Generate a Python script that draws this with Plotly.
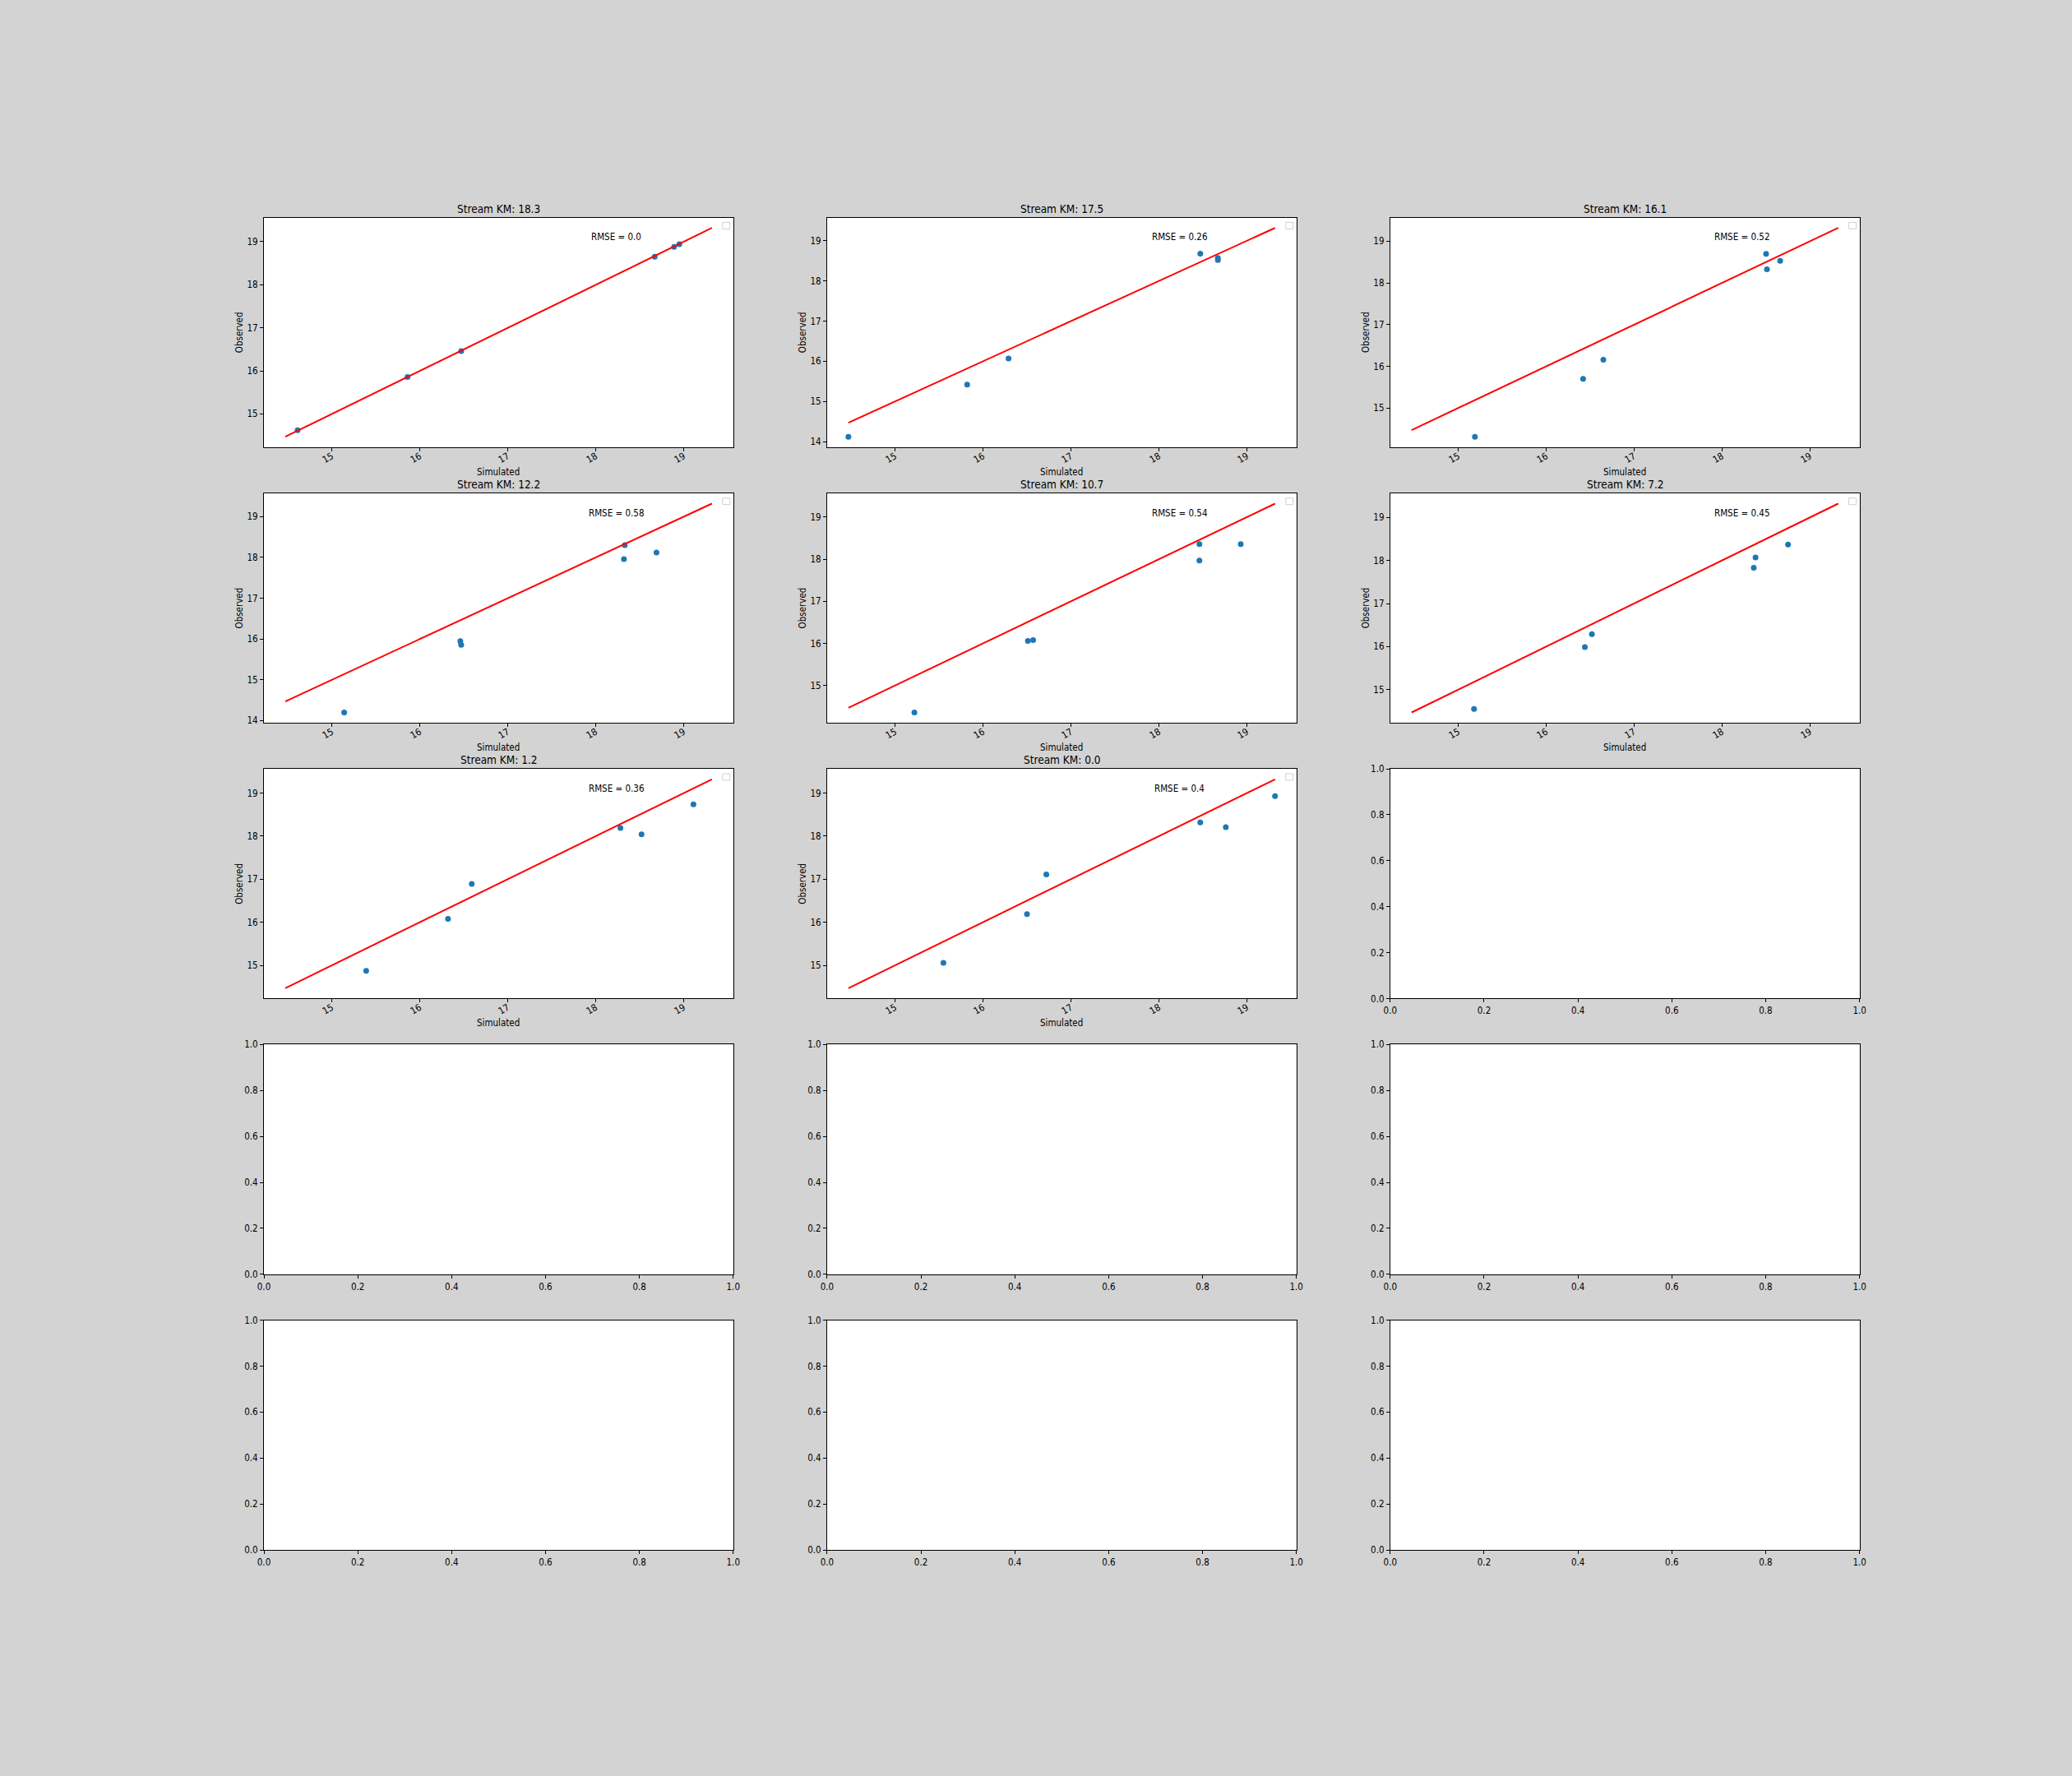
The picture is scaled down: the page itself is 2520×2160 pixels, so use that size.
import plotly.graph_objects as go

# ---------------- data ----------------
km_labels = ["18.3", "17.5", "16.1", "12.2", "10.7", "7.2", "1.2", "0.0"]
rmse_labels = ["0.0", "0.26", "0.52", "0.58", "0.54", "0.45", "0.36", "0.4"]

sim_183 = [14.61, 15.86, 16.47, 18.67, 18.89, 18.95]
obs_183 = [14.62, 15.86, 16.46, 18.65, 18.88, 18.94]
sim_175 = [14.47, 15.82, 16.29, 18.47, 18.67, 18.67]
obs_175 = [14.12, 15.42, 16.07, 18.68, 18.57, 18.52]
sim_161 = [15.19, 16.42, 16.65, 18.50, 18.51, 18.66]
obs_161 = [14.31, 15.70, 16.16, 18.70, 18.33, 18.53]
sim_122 = [15.14, 16.46, 16.47, 18.33, 18.32, 18.69]
obs_122 = [14.20, 15.95, 15.86, 18.30, 17.96, 18.12]
sim_107 = [15.22, 16.51, 16.57, 18.46, 18.46, 18.93]
obs_107 = [14.36, 16.06, 16.08, 18.36, 17.97, 18.36]
sim_72 = [15.18, 16.44, 16.52, 18.36, 18.38, 18.75]
obs_72 = [14.55, 15.99, 16.29, 17.83, 18.07, 18.37]
sim_12 = [15.39, 16.32, 16.59, 18.28, 18.52, 19.11]
obs_12 = [14.87, 16.08, 16.89, 18.19, 18.04, 18.74]
sim_00 = [15.55, 16.50, 16.72, 18.47, 18.76, 19.32]
obs_00 = [15.06, 16.19, 17.11, 18.32, 18.21, 18.93]

sims = [sim_183, sim_175, sim_161, sim_122, sim_107, sim_72, sim_12, sim_00]
obss = [obs_183, obs_175, obs_161, obs_122, obs_107, obs_72, obs_12, obs_00]

all_sim = [v for s in sims for v in s]
line_vals = [min(all_sim), max(all_sim)]

# ---------------- layout geometry ----------------
W, H = 2520, 2160
NROWS, NCOLS = 5, 3
left_px, right_px = 315.0, 2268.0
top_px, bottom_px = 259.2, 1890.3
aw = (right_px - left_px) / (NCOLS + 0.2 * (NCOLS - 1))
ah = (bottom_px - top_px) / (NROWS + 0.2 * (NROWS - 1))

FONT = "DejaVu Sans Condensed, DejaVu Sans"
TICK_SIZE = 11.5
TITLE_SIZE = 13.5

fig = go.Figure()
annotations = []
shapes = []
layout_axes = {}

for i in range(NROWS * NCOLS):
    r, c = divmod(i, NCOLS)
    x0 = left_px + c * aw * 1.2
    x1 = x0 + aw
    y0 = top_px + r * ah * 1.2
    y1 = y0 + ah
    n = i + 1
    xa = "x" if n == 1 else f"x{n}"
    ya = "y" if n == 1 else f"y{n}"
    xkey = "xaxis" if n == 1 else f"xaxis{n}"
    ykey = "yaxis" if n == 1 else f"yaxis{n}"

    common = dict(
        showline=True, linecolor="black", linewidth=1, mirror=True,
        ticks="outside", ticklen=4, tickwidth=1, tickcolor="black",
        showgrid=False, zeroline=False,
        tickfont=dict(family=FONT, size=TICK_SIZE, color="black"),
    )

    if i < len(sims):
        sx, sy = sims[i], obss[i]
        allx = sx + line_vals
        ally = sy + line_vals
        xr = [min(allx), max(allx)]
        yr = [min(ally), max(ally)]
        xpad = 0.05 * (xr[1] - xr[0])
        ypad = 0.05 * (yr[1] - yr[0])
        layout_axes[xkey] = dict(
            domain=[x0 / W, x1 / W], anchor=ya,
            range=[xr[0] - xpad, xr[1] + xpad], dtick=1, tick0=0,
            tickangle=-30, ticklabelstandoff=-5, **common)
        layout_axes[ykey] = dict(
            domain=[1 - y1 / H, 1 - y0 / H], anchor=xa,
            range=[yr[0] - ypad, yr[1] + ypad], dtick=1, tick0=0, **common)

        fig.add_trace(go.Scatter(
            x=sx, y=sy, mode="markers", xaxis=xa, yaxis=ya,
            marker=dict(color="#1f77b4", size=7, line=dict(width=0)),
            showlegend=False))
        fig.add_trace(go.Scatter(
            x=line_vals, y=line_vals, mode="lines", xaxis=xa, yaxis=ya,
            line=dict(color="red", width=2), showlegend=False))

        annotations.append(dict(
            text=f"Stream KM: {km_labels[i]}", x=0.5, y=1,
            xref=f"{xa} domain", yref=f"{ya} domain",
            xanchor="center", yanchor="middle", yshift=11, showarrow=False,
            font=dict(family=FONT, size=TITLE_SIZE, color="black")))
        annotations.append(dict(
            text="Simulated", x=0.5, y=0,
            xref=f"{xa} domain", yref=f"{ya} domain",
            xanchor="center", yanchor="middle", yshift=-30, showarrow=False,
            font=dict(family=FONT, size=TICK_SIZE, color="black")))
        annotations.append(dict(
            text="Observed", x=0, y=0.5,
            xref=f"{xa} domain", yref=f"{ya} domain",
            xanchor="center", yanchor="middle", xshift=-30, textangle=-90,
            showarrow=False,
            font=dict(family=FONT, size=TICK_SIZE, color="black")))
        annotations.append(dict(
            text=f"RMSE = {rmse_labels[i]}", x=0.751, y=0.915,
            xref=f"{xa} domain", yref=f"{ya} domain",
            xanchor="center", yanchor="middle", showarrow=False,
            font=dict(family=FONT, size=TICK_SIZE, color="black")))
        # empty legend frame
        shapes.append(dict(
            type="rect", xref=f"{xa} domain", yref=f"{ya} domain",
            x0=1 - 13 / aw, x1=1 - 4 / aw, y0=1 - 14 / ah, y1=1 - 6 / ah,
            line=dict(color="#d0d0d0", width=1), fillcolor="white"))
    else:
        layout_axes[xkey] = dict(
            domain=[x0 / W, x1 / W], anchor=ya,
            range=[0, 1], dtick=0.2, tick0=0, tickformat=".1f", **common)
        layout_axes[ykey] = dict(
            domain=[1 - y1 / H, 1 - y0 / H], anchor=xa,
            range=[0, 1], dtick=0.2, tick0=0, tickformat=".1f", **common)
        # empty trace so the axes are created
        fig.add_trace(go.Scatter(x=[], y=[], xaxis=xa, yaxis=ya,
                                 showlegend=False))

fig.update_layout(
    width=W, height=H,
    margin=dict(l=0, r=0, t=0, b=0),
    paper_bgcolor="#d3d3d3",
    plot_bgcolor="white",
    showlegend=False,
    annotations=annotations,
    shapes=shapes,
    font=dict(family=FONT, color="black"),
    **layout_axes,
)

fig.write_html("out.html")
